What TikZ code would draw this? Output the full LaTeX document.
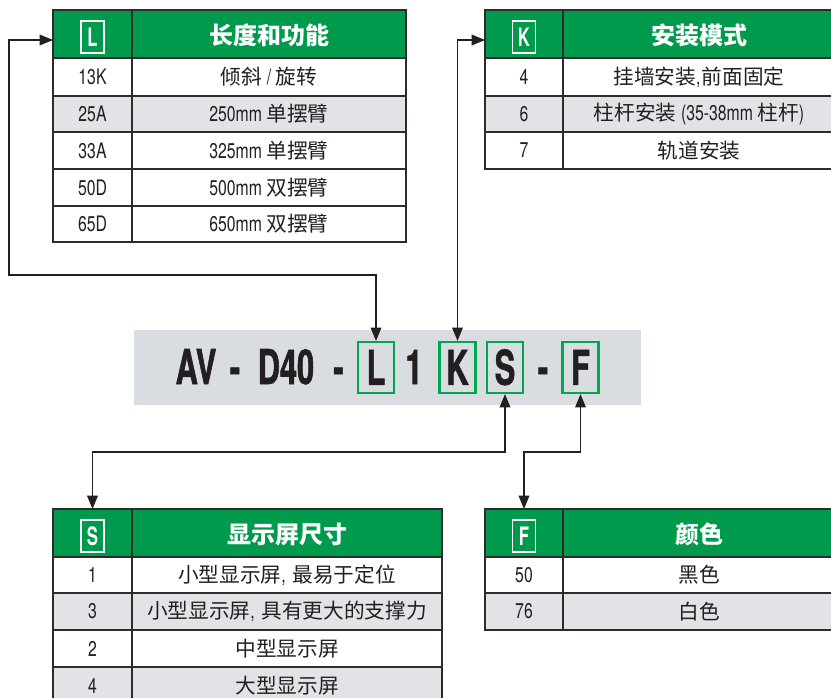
\documentclass[tikz,border=0pt]{standalone}
\usepackage{fontspec}
\setmainfont{TeX Gyre Heros}
\newfontfamily\cond[FakeStretch=0.74]{TeX Gyre Heros}
\newfontfamily\condb[FakeStretch=0.66]{TeX Gyre Heros}
\newfontfamily\condbig[FakeStretch=0.64,FakeBold=1.2]{TeX Gyre Heros}
\newfontfamily\cjk{Noto Sans CJK SC}
\usetikzlibrary{arrows.meta}
\definecolor{hdr}{RGB}{0,154,76}
\definecolor{gbox}{RGB}{0,166,81}
\definecolor{rowg}{RGB}{225,227,230}
\definecolor{panel}{RGB}{217,220,225}
\definecolor{tbl}{RGB}{45,43,44}
\definecolor{ink}{RGB}{35,31,32}
\newcommand\cn[1]{{\cond\fontsize{16}{16}\selectfont #1}}
% row: name, ytop, ybot, fill, code, desc, x0, xd, x1
\newcommand\trow[9]{%
  \fill[#4] (#7,#2) rectangle (#9,#3);
  \draw[tb] (#7,#2) rectangle (#9,#3);
  \draw[tb] (#8,#2) -- (#8,#3);
  \node[codetxt] (#1c) at ({(#7+#8)/2},{(#2+#3)/2}) {#5};
  \node[desctxt] (#1d) at ({(#8+#9)/2},{(#2+#3)/2}) {#6};
}
% header: name, ytop, ybot, letter, title, x0, xd, x1
\newcommand\thead[8]{%
  \fill[hdr] (#6,#2) rectangle (#8,#3);
  \draw[tb] (#6,#2) rectangle (#8,#3);
  \draw[tb] (#7,#2) -- (#7,#3);
  \node[hletter] (#1l) at ({(#6+#7)/2},{(#2+#3)/2+3}) {#4};
  \node[htitle] (#1t) at ({(#7+#8)/2},{(#2+#3)/2+1}) {#5};
  \coordinate (#1w) at (#6,{#2+30});
  \coordinate (#1n) at ({(#6+#7)/2},#2);
}
\tikzset{
  tb/.style={draw=tbl, line width=1.5pt},
  codetxt/.style={inner sep=0pt, text=ink, font=\cond\fontsize{16}{16}\selectfont},
  desctxt/.style={inner sep=0pt, text=ink, font=\cjk\fontsize{15.5}{16}\selectfont},
  hletter/.style={draw=white, line width=1.1pt, minimum width=17pt, minimum height=24pt,
    inner sep=0pt, text=white, text height=13.7pt, text depth=0pt,
    font=\condb\bfseries\fontsize{19}{19}\selectfont},
  htitle/.style={inner sep=0pt, text=white, font=\cjk\bfseries\fontsize{18}{18}\selectfont},
  big/.style={inner sep=0pt, anchor=base, text=ink, font=\condbig\bfseries\fontsize{36}{36}\selectfont},
  lbox/.style={draw=gbox, line width=1.9pt, minimum width=27pt, minimum height=38pt,
    inner sep=0pt, text=ink, text height=25.9pt, text depth=0pt,
    font=\condbig\bfseries\fontsize{36}{36}\selectfont},
  conn/.style={draw=ink, line width=1pt, line join=miter},
  dconn/.style={conn, {Triangle[length=10pt,width=8pt]}-{Triangle[length=10pt,width=8pt]}},
}
\begin{document}
\begin{tikzpicture}[x=0.75pt,y=-0.75pt]
\useasboundingbox (0,0) rectangle (831,697);
\clip (0,0) rectangle (831,697);
\fill[white] (0,0) rectangle (831,697);

% ---------- L table ----------
\thead{L}{10}{58}{L}{长度和功能}{53}{132}{406}
\trow{La}{58}{96}{white}{13K}{倾斜 \cn{/} 旋转}{53}{132}{406}
\trow{Lb}{96}{132}{rowg}{25A}{\cn{250mm} 单摆臂}{53}{132}{406}
\trow{Lc}{132}{169}{white}{33A}{\cn{325mm} 单摆臂}{53}{132}{406}
\trow{Ld}{169}{206}{white}{50D}{\cn{500mm} 双摆臂}{53}{132}{406}
\trow{Le}{206}{242}{white}{65D}{\cn{650mm} 双摆臂}{53}{132}{406}

% ---------- K table ----------
\thead{K}{10}{58}{K}{安装模式}{485}{563}{835}
\trow{Ka}{58}{96}{white}{4}{挂墙安装\cn{,}\hspace{1pt}前面固定}{485}{563}{835}
\trow{Kb}{96}{132}{rowg}{6}{柱杆安装 \cn{(35-38mm} 柱杆\cn{)}}{485}{563}{835}
\trow{Kc}{132}{169}{white}{7}{轨道安装}{485}{563}{835}

% ---------- S table ----------
\thead{S}{509}{557}{S}{显示屏尺寸}{53}{132}{442}
\trow{Sa}{557}{593}{white}{1}{小型显示屏\cn{,}\hspace{5pt}最易于定位}{53}{132}{442}
\trow{Sb}{593}{630}{rowg}{3}{小型显示屏\cn{,}\hspace{5pt}具有更大的支撑力}{53}{132}{442}
\trow{Sc}{630}{667}{white}{2}{中型显示屏}{53}{132}{442}
\trow{Sd}{667}{704}{rowg}{4}{大型显示屏}{53}{132}{442}

% ---------- F table ----------
\thead{F}{509}{557}{F}{颜色}{485}{563}{835}
\trow{Fa}{557}{593}{white}{50}{黑色}{485}{563}{835}
\trow{Fb}{593}{630}{rowg}{76}{白色}{485}{563}{835}

% ---------- model code ----------
\fill[panel] (134,330) rectangle (641,405);
\node[big] (av) at (196,384) {AV};
\node[big] (dash1) at (235,384) {-};
\node[big] (d40) at (286,384) {D40};
\node[big] (dash2) at (338.5,384) {-};
\node[big] (one) at (414,384) {1};
\node[big] (dash3) at (543,384) {-};
\node[lbox] (Lbox) at (376,367.5) {L};
\node[lbox] (Kbox) at (457.5,367.5) {K};
\node[lbox] (Sbox) at (505,367.5) {S};
\node[lbox] (Fbox) at (580.5,367.5) {F};

% ---------- connectors ----------
\coordinate (la) at (376,275);
\coordinate (lb) at (9,275);
\coordinate (lc) at (9,40);
\draw[dconn] (Lbox.north) -- (la) -- (lb) -- (lc) -- (Lw);

\coordinate (ka) at (457.5,40);
\draw[dconn] (Kbox.north) -- (ka) -- (Kw);

\coordinate (sa) at (505,452);
\coordinate (sb) at (92.5,452);
\draw[dconn] (Sbox.south) -- (sa) -- (sb) -- (Sn);

\coordinate (fa) at (580.5,452);
\coordinate (fb) at (524,452);
\draw[dconn] (Fbox.south) -- (fa) -- (fb) -- (Fn);
\end{tikzpicture}
\end{document}
